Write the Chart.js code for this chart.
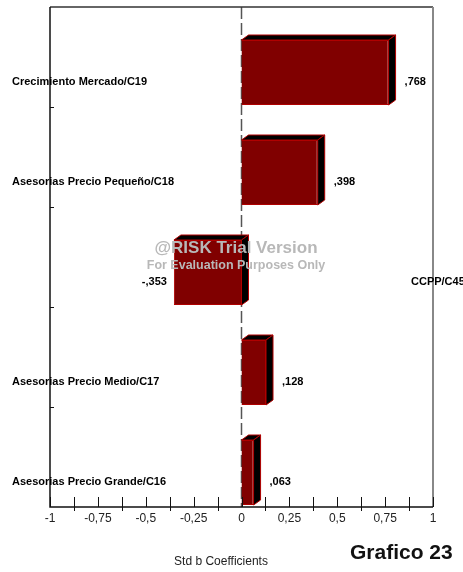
<!DOCTYPE html>
<html>
<head>
<meta charset="utf-8">
<script src="https://cdn.jsdelivr.net/npm/chart.js@4/dist/chart.umd.min.js"></script>
<style>
  html, body { margin: 0; padding: 0; background: #fff; }
  canvas { display: block; }
</style>
</head>
<body>
<canvas id="tornado" width="463" height="572"></canvas>
<script>
const categories = [
    "Crecimiento Mercado/C19",
    "Asesorias Precio Pequeño/C18",
    "CCPP/C45",
    "Asesorias Precio Medio/C17",
    "Asesorias Precio Grande/C16"
];
const coefficients = [0.768, 0.398, -0.353, 0.128, 0.063];
const valueLabels = [",768", ",398", "-,353", ",128", ",063"];
const tickLabels = ["-1", "-0,75", "-0,5", "-0,25", "0", "0,25", "0,5", "0,75", "1"];
const axisTitle = "Std b Coefficients";
const caption = "Grafico 23";

const FONT = "'Liberation Sans', Arial, sans-serif";
const BAR_SHIFT = 15.5;   // bars sit low in their band (3D look)
const DX = 7, DY = -5;    // depth of the 3D faces

const tornadoPlugin = {
    id: "tornado",
    beforeDatasetsDraw(chart) {
        const { ctx, chartArea, scales } = chart;
        const x0 = scales.x.getPixelForValue(0);
        ctx.save();
        ctx.strokeStyle = "#555";
        ctx.lineWidth = 1.5;
        ctx.setLineDash([12, 4]);
        ctx.beginPath();
        ctx.moveTo(x0, chartArea.top);
        ctx.lineTo(x0, chartArea.bottom);
        ctx.stroke();
        ctx.restore();

        ctx.save();
        ctx.translate(0, BAR_SHIFT);
    },
    afterDatasetsDraw(chart) {
        const { ctx, chartArea, scales } = chart;
        ctx.restore();

        // 3D faces of the bars
        const meta = chart.getDatasetMeta(0);
        meta.data.forEach(bar => {
            const left = Math.min(bar.x, bar.base);
            const right = Math.max(bar.x, bar.base);
            const top = bar.y - bar.height / 2 + BAR_SHIFT;
            const bottom = bar.y + bar.height / 2 + BAR_SHIFT;
            ctx.save();
            ctx.fillStyle = "#000";
            ctx.strokeStyle = "#b00000";
            ctx.lineWidth = 1;
            ctx.beginPath();
            ctx.moveTo(left, top);
            ctx.lineTo(left + DX, top + DY);
            ctx.lineTo(right + DX, top + DY);
            ctx.lineTo(right, top);
            ctx.closePath();
            ctx.fill();
            ctx.stroke();
            ctx.beginPath();
            ctx.moveTo(right, top);
            ctx.lineTo(right + DX, top + DY);
            ctx.lineTo(right + DX, bottom + DY);
            ctx.lineTo(right, bottom);
            ctx.closePath();
            ctx.fill();
            ctx.stroke();
            ctx.restore();
        });

        ctx.save();
        // frame
        ctx.lineWidth = 1.5;
        ctx.strokeStyle = "#333";
        ctx.beginPath();
        ctx.moveTo(chartArea.left, chartArea.top);
        ctx.lineTo(chartArea.right, chartArea.top);
        ctx.stroke();
        ctx.strokeStyle = "#888";
        ctx.lineWidth = 2;
        ctx.beginPath();
        ctx.moveTo(chartArea.right, chartArea.top);
        ctx.lineTo(chartArea.right, chartArea.bottom);
        ctx.stroke();
        ctx.strokeStyle = "#111";
        ctx.lineWidth = 1.5;
        ctx.beginPath();
        ctx.moveTo(chartArea.left, chartArea.top);
        ctx.lineTo(chartArea.left, chartArea.bottom);
        ctx.lineTo(chartArea.right, chartArea.bottom);
        ctx.stroke();

        // x tick marks
        ctx.lineWidth = 1;
        scales.x.ticks.forEach((t, i) => {
            const px = Math.round(scales.x.getPixelForValue(t.value)) + 0.5;
            ctx.beginPath();
            ctx.moveTo(px, chartArea.bottom - 10);
            ctx.lineTo(px, chartArea.bottom + (i % 2 ? 4 : 0));
            ctx.stroke();
        });

        // category boundary ticks on the left axis
        for (let i = 1; i < categories.length; i++) {
            const py = Math.round((scales.y.getPixelForValue(i - 1) + scales.y.getPixelForValue(i)) / 2) + 0.5;
            ctx.beginPath();
            ctx.moveTo(chartArea.left, py);
            ctx.lineTo(chartArea.left + 4, py);
            ctx.stroke();
        }

        // category and value labels
        ctx.font = "bold 11px " + FONT;
        ctx.fillStyle = "#000";
        ctx.textBaseline = "middle";
        meta.data.forEach((bar, i) => {
            const py = scales.y.getPixelForValue(i) + 25;
            const v = coefficients[i];
            if (v >= 0) {
                ctx.textAlign = "left";
                ctx.fillText(categories[i], 12, py);
                ctx.fillText(valueLabels[i], bar.x + 16, py);
            } else {
                ctx.textAlign = "left";
                ctx.fillText(categories[i], 411, py);
                ctx.textAlign = "right";
                ctx.fillText(valueLabels[i], bar.x - 7, py);
            }
        });

        // watermark
        ctx.fillStyle = "#b8b8b8";
        ctx.textAlign = "center";
        ctx.font = "bold 17px " + FONT;
        ctx.fillText("@RISK Trial Version", 236, 248);
        ctx.font = "bold 12.5px " + FONT;
        ctx.fillText("For Evaluation Purposes Only", 236, 266);

        // titles
        ctx.fillStyle = "#222";
        ctx.font = "12px " + FONT;
        ctx.fillText(axisTitle, 221, 562);
        ctx.fillStyle = "#111";
        ctx.textAlign = "left";
        ctx.font = "bold 21px " + FONT;
        ctx.fillText(caption, 350, 553);
        ctx.restore();
    }
};

new Chart(document.getElementById("tornado"), {
    type: "bar",
    data: {
        labels: categories,
        datasets: [{
            data: coefficients,
            backgroundColor: "#800000",
            borderColor: "#b00000",
            borderWidth: 1,
            barPercentage: 0.65,
            categoryPercentage: 1
        }]
    },
    options: {
        indexAxis: "y",
        responsive: false,
        animation: false,
        layout: { padding: { top: 7, right: 30, left: 0, bottom: 0 } },
        plugins: {
            legend: { display: false },
            tooltip: { enabled: false }
        },
        scales: {
            x: {
                min: -1,
                max: 1,
                grid: { display: false },
                border: { display: false },
                ticks: {
                    stepSize: 0.125,
                    autoSkip: false,
                    maxRotation: 0,
                    padding: -4,
                    color: "#222",
                    font: { family: FONT, size: 12 },
                    callback: (value, index) => index % 2 ? "" : tickLabels[index / 2]
                },
                afterFit: scale => { scale.height = 65; }
            },
            y: {
                grid: { display: false },
                border: { display: false },
                ticks: { display: false },
                afterFit: scale => { scale.width = 50; }
            }
        }
    },
    plugins: [tornadoPlugin]
});
</script>
</body>
</html>
